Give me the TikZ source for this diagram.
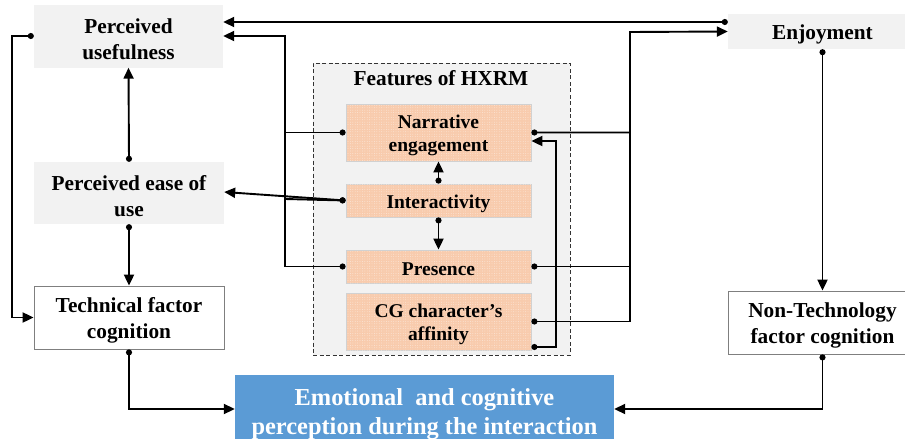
\documentclass[tikz,border=0pt]{standalone}
\usepackage{fontspec}
\setmainfont{Liberation Serif}
\usetikzlibrary{arrows.meta,patterns.meta}
\definecolor{boxgray}{HTML}{F2F2F2}
\definecolor{peach}{HTML}{F8CBAD}
\definecolor{steelblue}{HTML}{5B9BD5}
\definecolor{edgegray}{HTML}{7F7F7F}
\begin{document}
\begin{tikzpicture}[x=1pt,y=-1pt,
  every node/.style={inner sep=0pt, align=center},
  every label/.style={inner sep=0pt, align=center},
  % box text sits a little below the geometric centre
  bigtext/.style={yshift=-3pt, font=\bfseries\fontsize{21.3}{26}\selectfont},
  graybox/.style={fill=boxgray, label={[bigtext]center:#1}},
  whitebox/.style={fill=white, draw=edgegray, line width=0.8pt, label={[bigtext]center:#1}},
  bluebox/.style={fill=steelblue,
    label={[yshift=-3.5pt, text=white, font=\bfseries\fontsize{24.4}{29}\selectfont]center:#1}},
  frame/.style={fill=boxgray, draw=black!80, line width=0.9pt, dash pattern=on 4pt off 2.5pt},
  frametitle/.style={font=\bfseries\fontsize{21.3}{26}\selectfont},
  featbox/.style={fill=peach, draw=black!18, line width=0.8pt, minimum width=185pt,
    postaction={pattern={Dots[distance=2.4pt,radius=0.45pt]}, pattern color=peach!45!white},
    label={[yshift=-3pt, font=\bfseries\fontsize{19.5}{23}\selectfont]center:#1}},
  link/.style={line width=1.9pt, {Circle[length=6pt]}-{Triangle[length=11pt,width=10pt]}},
  wire/.style={line width=1.9pt, {Circle[length=6pt]}-}
]
\useasboundingbox (0,0) rectangle (905,439);

% technology acceptance side
\node[graybox={Perceived\\usefulness}, minimum width=189pt, minimum height=63pt] (pu) at (128.5,36) {};
\node[graybox={Perceived ease of\\use}, minimum width=190pt, minimum height=62pt] (peou) at (129,193) {};
\node[whitebox={Technical factor\\cognition}, minimum width=190pt, minimum height=63pt] (tfc) at (129,317.5) {};

% outcome
\node[bluebox={Emotional\ \ and cognitive\\perception during the interaction}, minimum width=379pt, minimum height=71pt] (emo) at (424.5,410.5) {};

% enjoyment side
\node[graybox={Enjoyment}, minimum width=189pt, minimum height=35pt] (enj) at (822.5,31.5) {};
\node[whitebox={Non-Technology\\factor cognition}, minimum width=189pt, minimum height=63pt] (ntfc) at (822.5,322.5) {};

% features group
\node[frame, minimum width=257pt, minimum height=292pt] (feat) at (441.5,209) {};
\node[frametitle] (ftitle) at (441,78) {Features of HXRM};
\node[featbox={Narrative\\engagement}, minimum height=57pt] (ne) at (438.5,132.5) {};
\node[featbox={Interactivity}, minimum height=33pt] (inter) at (438.5,200.5) {};
\node[featbox={Presence}, minimum height=33pt] (pr) at (438.5,266.5) {};
\node[featbox={CG character’s\\affinity}, minimum height=57pt] (cg) at (438.5,321.5) {};

% routing points
\coordinate (tl) at (285,36);
\coordinate (ti) at (285,199);
\coordinate (tr) at (630,32);
\coordinate (lp) at (556,141);
\coordinate (lb) at (12,317.5);

% enjoyment -> perceived usefulness
\draw[link] ([yshift=9.5pt]enj.west) -- ([yshift=14pt]pu.east);

% features -> perceived usefulness
\draw[link] (ne.west) -| (tl) -- (pu.east);
\draw[wire] (pr.west) -| (tl);
\draw[wire] (inter.west) -- (ti);

% interactivity -> perceived ease of use
\draw[link] (inter.west) -- ([yshift=1pt]peou.east);

% features -> enjoyment
\draw[link] (ne.east) -| (tr) -- (enj.west);
\draw[wire] (pr.east) -| (tr);
\draw[wire] (cg.east) -| (tr);

% affinity -> narrative engagement
\draw[link] ([yshift=-25.5pt]cg.east) -| (lp) -- ([yshift=-8.5pt]ne.east);

% inside the group
\draw[link] (inter.north) -- (ne.south);
\draw[link] (inter.south) -- (pr.north);

% left column
\draw[link] (peou.north) -- (pu.south);
\draw[link] (peou.south) -- (tfc.north);
\draw[link] (pu.west) -| (lb) -- (tfc.west);
\draw[link] (tfc.south) |- ([yshift=1.5pt]emo.west);

% right column
\draw[link] (enj.south) -- (ntfc.north);
\draw[link] (ntfc.south) |- ([yshift=1.5pt]emo.east);
\end{tikzpicture}
\end{document}
